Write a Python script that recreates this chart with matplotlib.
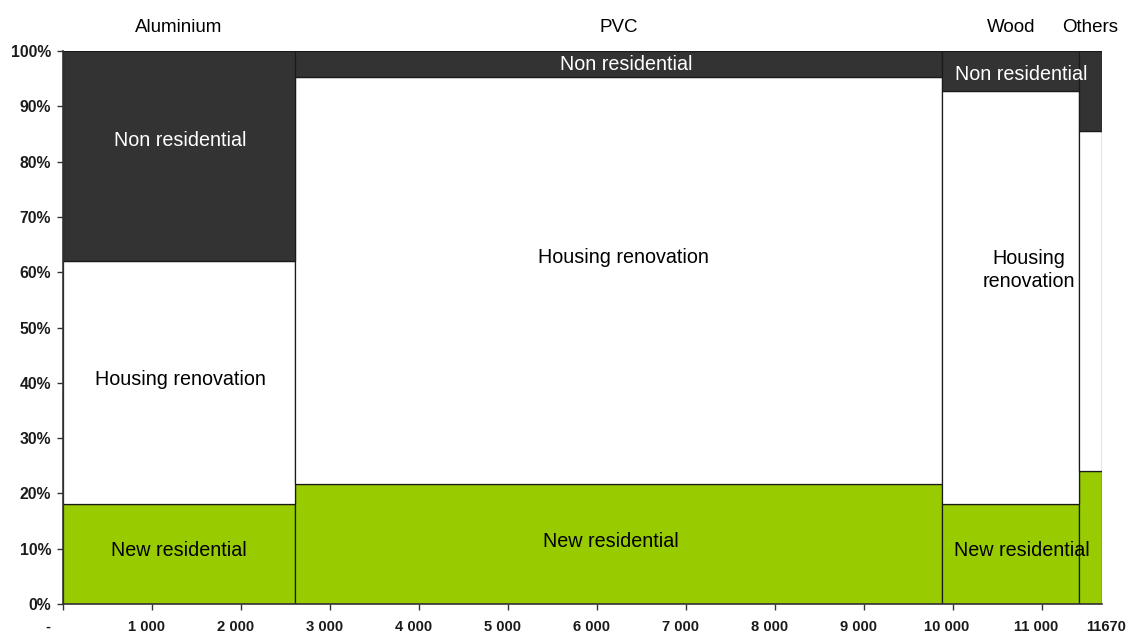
import matplotlib
matplotlib.use("Agg")
import matplotlib.pyplot as plt
import matplotlib.transforms as mtransforms
import numpy as np

plt.rcParams['font.family'] = ['Liberation Sans', 'DejaVu Sans']

# Market size per material (column widths) and split by segment (%)
materials = ["Aluminium", "PVC", "Wood", "Others"]
volumes = [2600, 7280, 1535, 255]
new_residential = [18.0, 21.7, 18.0, 24.1]
housing_renovation = [44.0, 73.6, 74.8, 61.4]
non_residential = [38.0, 4.7, 7.2, 14.5]

segments = ["New residential", "Housing renovation", "Non residential"]
seg_colors = ["#99CC00", "#FFFFFF", "#333333"]
seg_text_colors = ["#000000", "#000000", "#FFFFFF"]

x_ticks = [0, 1000, 2000, 3000, 4000, 5000, 6000, 7000, 8000, 9000, 10000, 11000]
x_tick_labels = ["-", "1 000", "2 000", "3 000", "4 000", "5 000", "6 000",
                 "7 000", "8 000", "9 000", "10 000", "11 000"]
total_label = "11670"

fig = plt.figure(figsize=(11.34, 6.35), dpi=100)
ax = fig.add_axes([0.0558, 0.0488, 0.9157, 0.8709])

lefts = np.concatenate([[0], np.cumsum(volumes)[:-1]])
values = np.array([new_residential, housing_renovation, non_residential])
bottoms = np.vstack([np.zeros(len(volumes)), np.cumsum(values, axis=0)[:-1]])

for s in range(len(segments)):
    ax.bar(lefts, values[s], width=volumes, bottom=bottoms[s], align="edge",
           color=seg_colors[s], edgecolor="#1a1a1a", linewidth=0.9, zorder=2)

# Segment labels: (column, segment) -> (height in %, horizontal nudge in volume units)
label_pos = {
    (0, 0): (9.6, 0), (0, 1): (40.6, 20), (0, 2): (83.8, 10),
    (1, 0): (11.3, -90), (1, 1): (62.7, 55), (1, 2): (97.5, 90),
    (2, 0): (9.6, 130), (2, 1): (60.4, 200), (2, 2): (95.8, 120),
}
for (m, s), (yv, dx) in label_pos.items():
    text = segments[s]
    if m == 2 and s == 1:
        text = "Housing\nrenovation"
    xc = lefts[m] + volumes[m] / 2 + dx
    ax.text(xc, yv, text, ha="center", va="center", fontsize=14.2,
            color=seg_text_colors[s], zorder=4, linespacing=1.3)

# Material names above the columns
for m, name in enumerate(materials):
    xc = lefts[m] + volumes[m] / 2
    ax.text(xc, 104.3, name, ha="center", va="center", fontsize=13.5,
            color="#000000", clip_on=False)

ax.set_xlim(0, sum(volumes))
ax.set_ylim(0, 100)
ax.set_yticks(np.arange(0, 101, 10))
ax.set_yticklabels([f"{v}%" for v in range(0, 101, 10)], fontsize=11.3,
                   fontweight="bold", color="#1a1a1a")
ax.set_xticks(x_ticks)
ax.set_xticklabels([])

# X tick labels, set slightly left of their ticks
xlab_tr = mtransforms.blended_transform_factory(ax.transData, ax.transAxes)
for i, (xv, lab) in enumerate(zip(x_ticks, x_tick_labels)):
    dx_px = -15 if i == 0 else -6
    tr = xlab_tr + mtransforms.ScaledTranslation(dx_px / 100, -23 / 100, fig.dpi_scale_trans)
    ax.text(xv, 0, lab, transform=tr, ha="center", va="center", fontsize=10.6,
            fontweight="bold", color="#1a1a1a", clip_on=False)

# Total volume written at the right end of the axis
total_tr = xlab_tr + mtransforms.ScaledTranslation(4 / 100, -23 / 100, fig.dpi_scale_trans)
ax.text(sum(volumes), 0, total_label, transform=total_tr,
        ha="center", va="center", fontsize=10.6, fontweight="bold", color="#1a1a1a",
        clip_on=False)

ax.tick_params(axis="both", direction="out", length=4.3, width=1, color="#333333")
ax.tick_params(axis="y", pad=4.5)
for side in ["top", "right"]:
    ax.spines[side].set_visible(False)
for side in ["left", "bottom"]:
    ax.spines[side].set_color("#333333")
    ax.spines[side].set_linewidth(1.2)

fig.savefig("out.png", dpi=100, facecolor="white")
